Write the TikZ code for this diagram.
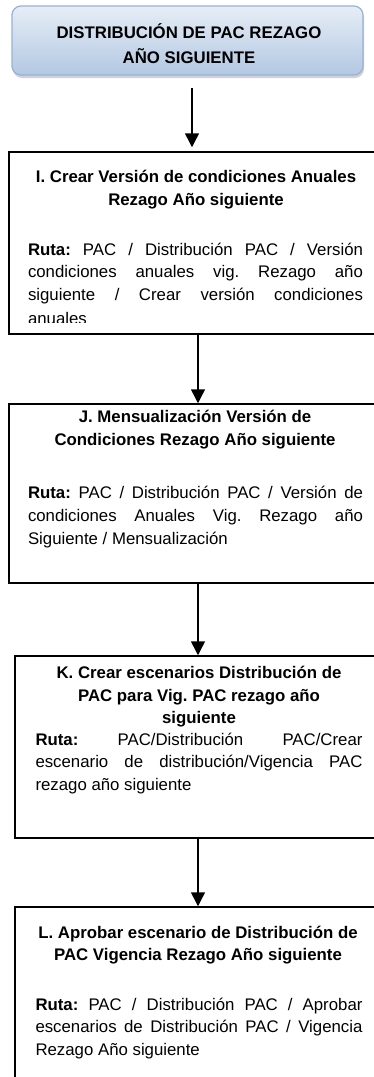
\documentclass[tikz,border=0pt]{standalone}
\usepackage{fontspec}
\setmainfont{Liberation Sans}
\usetikzlibrary{arrows.meta,shadows}
\definecolor{tbtop}{HTML}{E6EDF6}
\definecolor{tbbot}{HTML}{B3C8E2}
\definecolor{tbdraw}{HTML}{95B3D7}
\newcommand\jline[2]{\makebox[#1][s]{#2}}
\frenchspacing
\begin{document}
\frenchspacing
\begin{tikzpicture}[x=1pt,y=-1pt,
  txt/.style={inner sep=0pt,outer sep=0pt,anchor=base,font=\fontsize{16.8}{20}\selectfont\frenchspacing},
  hd/.style={txt,font=\fontsize{16.8}{20}\selectfont\bfseries\frenchspacing},
  rl/.style={txt,anchor=base west},
  stepbox/.style={draw=black,line width=1.5pt,rectangle,inner sep=0pt},
  titlebox/.style={draw=tbdraw,line width=1.2pt,rounded corners=9pt,top color=tbtop,bottom color=tbbot,
     drop shadow={shadow xshift=1pt,shadow yshift=-3pt,fill=black!35},inner sep=0pt},
  arr/.style={line width=1.5pt,-{Triangle[length=14pt,width=14pt]}}]
\clip (0,0) rectangle (374,1077);
\fill[white] (0,0) rectangle (374,1077);
% title
\node[titlebox,minimum width=351pt,minimum height=69pt] (title) at (187.5,40.5) {};
\node[hd] (t1) at (189,38) {DISTRIBUCIÓN DE PAC REZAGO};
\node[hd] (t2) at (189,63) {AÑO SIGUIENTE};
% boxes
\node[stepbox,minimum width=372pt,minimum height=182pt] (bI) at (195,243) {};
\node[stepbox,minimum width=372pt,minimum height=179pt] (bJ) at (195,493.5) {};
\node[stepbox,minimum width=372pt,minimum height=182pt] (bK) at (201,747) {};
\node[stepbox,minimum width=372pt,minimum height=213pt] (bL) at (201,1013.5) {};
% box I
\node[hd] (i1) at (196,182) {I. Crear Versión de condiciones Anuales};
\node[hd] (i2) at (196,205) {Rezago Año siguiente};
\node[rl] (ir1) at (28,255) {\jline{335pt}{\textbf{Ruta:} PAC / Distribución PAC / Versión}};
\node[rl] (ir2) at (28,277.5) {\jline{335pt}{condiciones anuales vig. Rezago año}};
\node[rl] (ir3) at (28,300) {\jline{335pt}{siguiente / Crear versión condiciones}};
\begin{scope}
\clip (0,152) rectangle (374,322);
\node[rl] (ir4) at (28,324.5) {anuales};
\end{scope}
% box J
\node[hd] (j1) at (195,422) {J. Mensualización Versión de};
\node[hd] (j2) at (195,445) {Condiciones Rezago Año siguiente};
\node[rl] (jr1) at (28,498) {\jline{335pt}{\textbf{Ruta:} PAC / Distribución PAC / Versión de}};
\node[rl] (jr2) at (28,521) {\jline{335pt}{condiciones Anuales Vig. Rezago año}};
\node[rl] (jr3) at (28,544) {Siguiente / Mensualización};
% box K
\node[hd] (k1) at (199,678) {K. Crear escenarios Distribución de};
\node[hd] (k2) at (199,701) {PAC para Vig. PAC rezago año};
\node[hd] (k3) at (199,723.5) {siguiente};
\node[rl] (kr1) at (35.5,745) {\jline{327pt}{\textbf{Ruta:} PAC/Distribución PAC/Crear}};
\node[rl] (kr2) at (35.5,767.5) {\jline{327pt}{escenario de distribución/Vigencia PAC}};
\node[rl] (kr3) at (35.5,790) {rezago año siguiente};
% box L
\node[hd] (l1) at (198,938) {L. Aprobar escenario de Distribución de};
\node[hd] (l2) at (198,960.5) {PAC Vigencia Rezago Año siguiente};
\node[rl] (lr1) at (35.5,1010) {\jline{327pt}{\textbf{Ruta:} PAC / Distribución PAC / Aprobar}};
\node[rl] (lr2) at (35.5,1032.5) {\jline{327pt}{escenarios de Distribución PAC / Vigencia}};
\node[rl] (lr3) at (35.5,1055) {Rezago Año siguiente};
% arrows
\coordinate (a1s) at (192,88);
\draw[arr,shorten >=4pt] (a1s) -- (a1s |- bI.north);
\draw[arr] ([xshift=3pt]bI.south) -- ([xshift=3pt]bI.south |- bJ.north);
\draw[arr] ([xshift=3pt]bJ.south) -- ([xshift=-3pt]bK.north);
\draw[arr] ([xshift=-3pt]bK.south) -- ([xshift=-3pt]bL.north);
\end{tikzpicture}
\end{document}
